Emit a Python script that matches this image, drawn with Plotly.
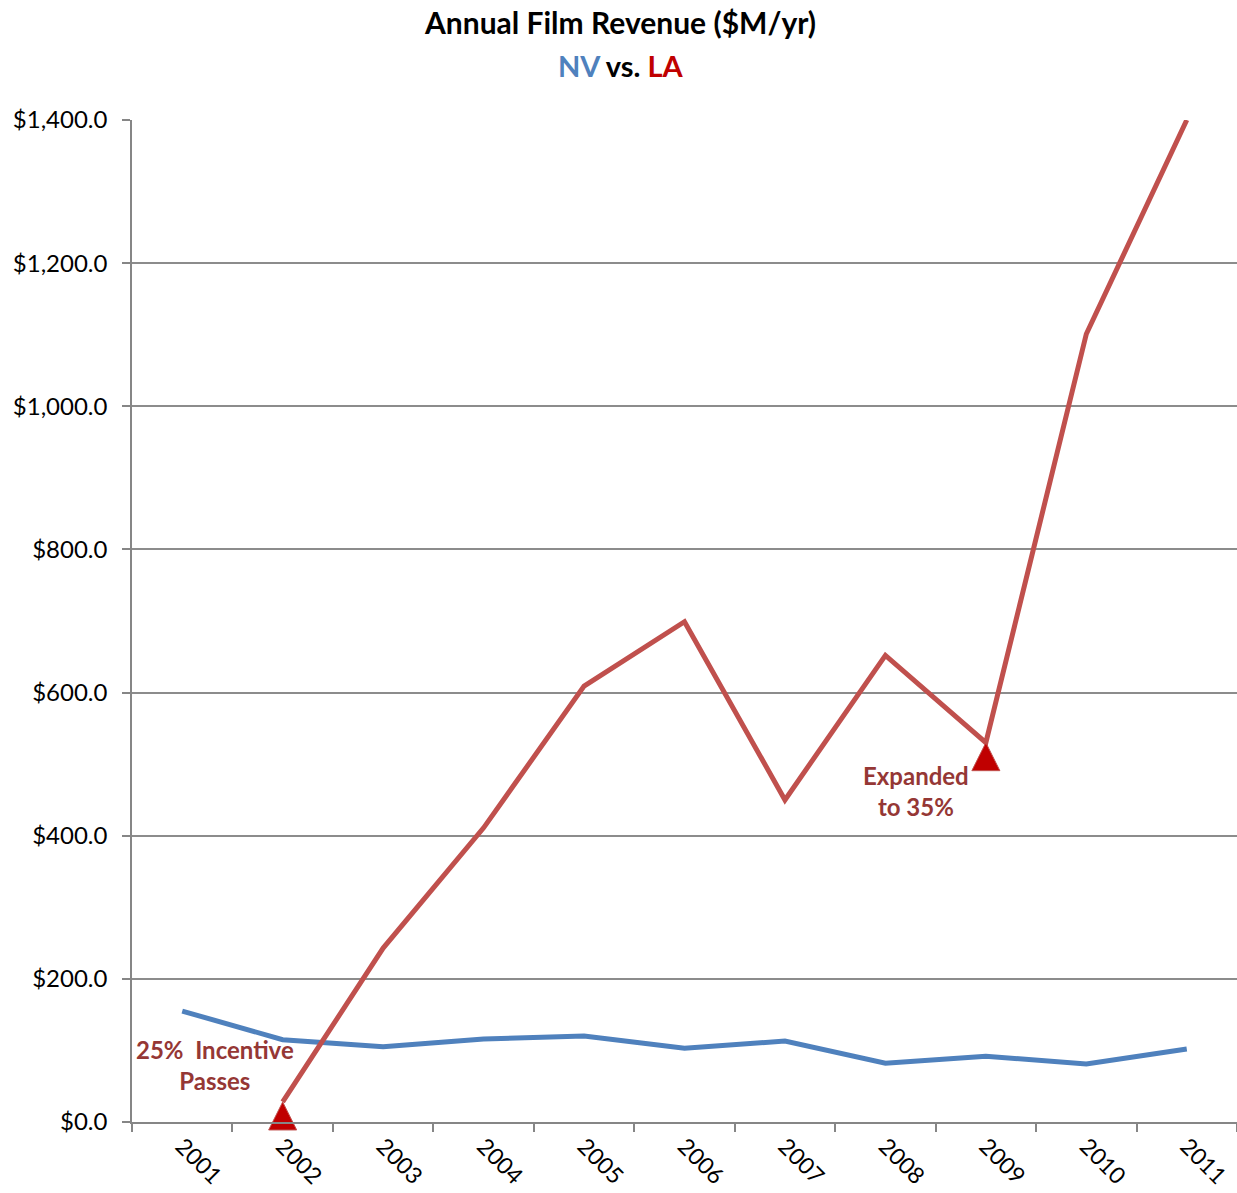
import plotly.graph_objects as go

years = ["2001", "2002", "2003", "2004", "2005", "2006", "2007", "2008", "2009", "2010", "2011"]
nv = [155, 115, 105, 116, 120, 103, 113, 82, 92, 81, 102]
la = [None, 28, 243, 411, 609, 699, 450, 652, 530, 1101, 1400]
marker_years = ["2002", "2009"]
marker_vals = [28, 530]

FONT = "Lato"
fig = go.Figure()
fig.add_trace(go.Scatter(x=years, y=nv, mode="lines", line=dict(color="#4F81BD", width=5),
                         cliponaxis=False, showlegend=False))
fig.add_trace(go.Scatter(x=years, y=la, mode="lines", line=dict(color="#C0504D", width=5),
                         cliponaxis=False, showlegend=False))
fig.add_trace(go.Scatter(x=marker_years, y=marker_vals, mode="markers",
                         marker=dict(symbol="arrow-up", size=28, color="#C00000",
                                     line=dict(color="#C0504D", width=1)),
                         cliponaxis=False, showlegend=False))

fig.update_layout(
    width=1237, height=1193,
    margin=dict(l=132, r=0, t=120, b=71),
    paper_bgcolor="white", plot_bgcolor="white",
    font=dict(family=FONT, size=24, color="black"),
    xaxis=dict(type="category", range=[-0.5, 10.5], tickangle=45, ticks="outside",
               tickson="boundaries", ticklen=8, tickcolor="#868686", tickwidth=1.5,
               showline=True, linecolor="#868686", linewidth=1.5, showgrid=False,
               tickfont=dict(size=23), automargin=False),
    yaxis=dict(range=[0, 1400], dtick=200, tickformat="$,.1f", ticks="outside", ticklen=8,
               tickcolor="#868686", tickwidth=1.5, showline=True, linecolor="#868686",
               linewidth=1.5, gridcolor="#8c8c8c", gridwidth=1.5, zeroline=False,
               tickfont=dict(size=24), automargin=False, ticklabelstandoff=10),
    annotations=[
        dict(text="<b>Annual Film Revenue ($M/yr)</b>", x=620, y=22, xref="paper", yref="paper",
             showarrow=False, font=dict(size=30, color="black")),
        dict(text="<b><span style='color:#4F81BD'>NV</span> vs. <span style='color:#C00000'>LA</span></b>",
             x=620, y=66, xref="paper", yref="paper", showarrow=False, font=dict(size=29, color="black")),
        dict(text="<b>25%  Incentive<br>Passes</b>", x=0.33, y=80, xref="x", yref="y",
             showarrow=False, font=dict(size=24, color="#953735"), align="center"),
        dict(text="<b>Expanded<br>to 35%</b>", x=7.3, y=462, xref="x", yref="y",
             showarrow=False, font=dict(size=24, color="#953735"), align="center"),
    ],
)
W, H = 1237, 1193
pw, ph = W - 132, H - 120 - 71
for a in fig.layout.annotations[:2]:
    a.x = (a.x - 132) / pw
    a.y = (H - 71 - a.y) / ph
    a.yanchor = "middle"
fig.write_html("out.html", config={"displayModeBar": False},
               post_script="document.body.style.margin='0';document.body.style.overflow='hidden';")
